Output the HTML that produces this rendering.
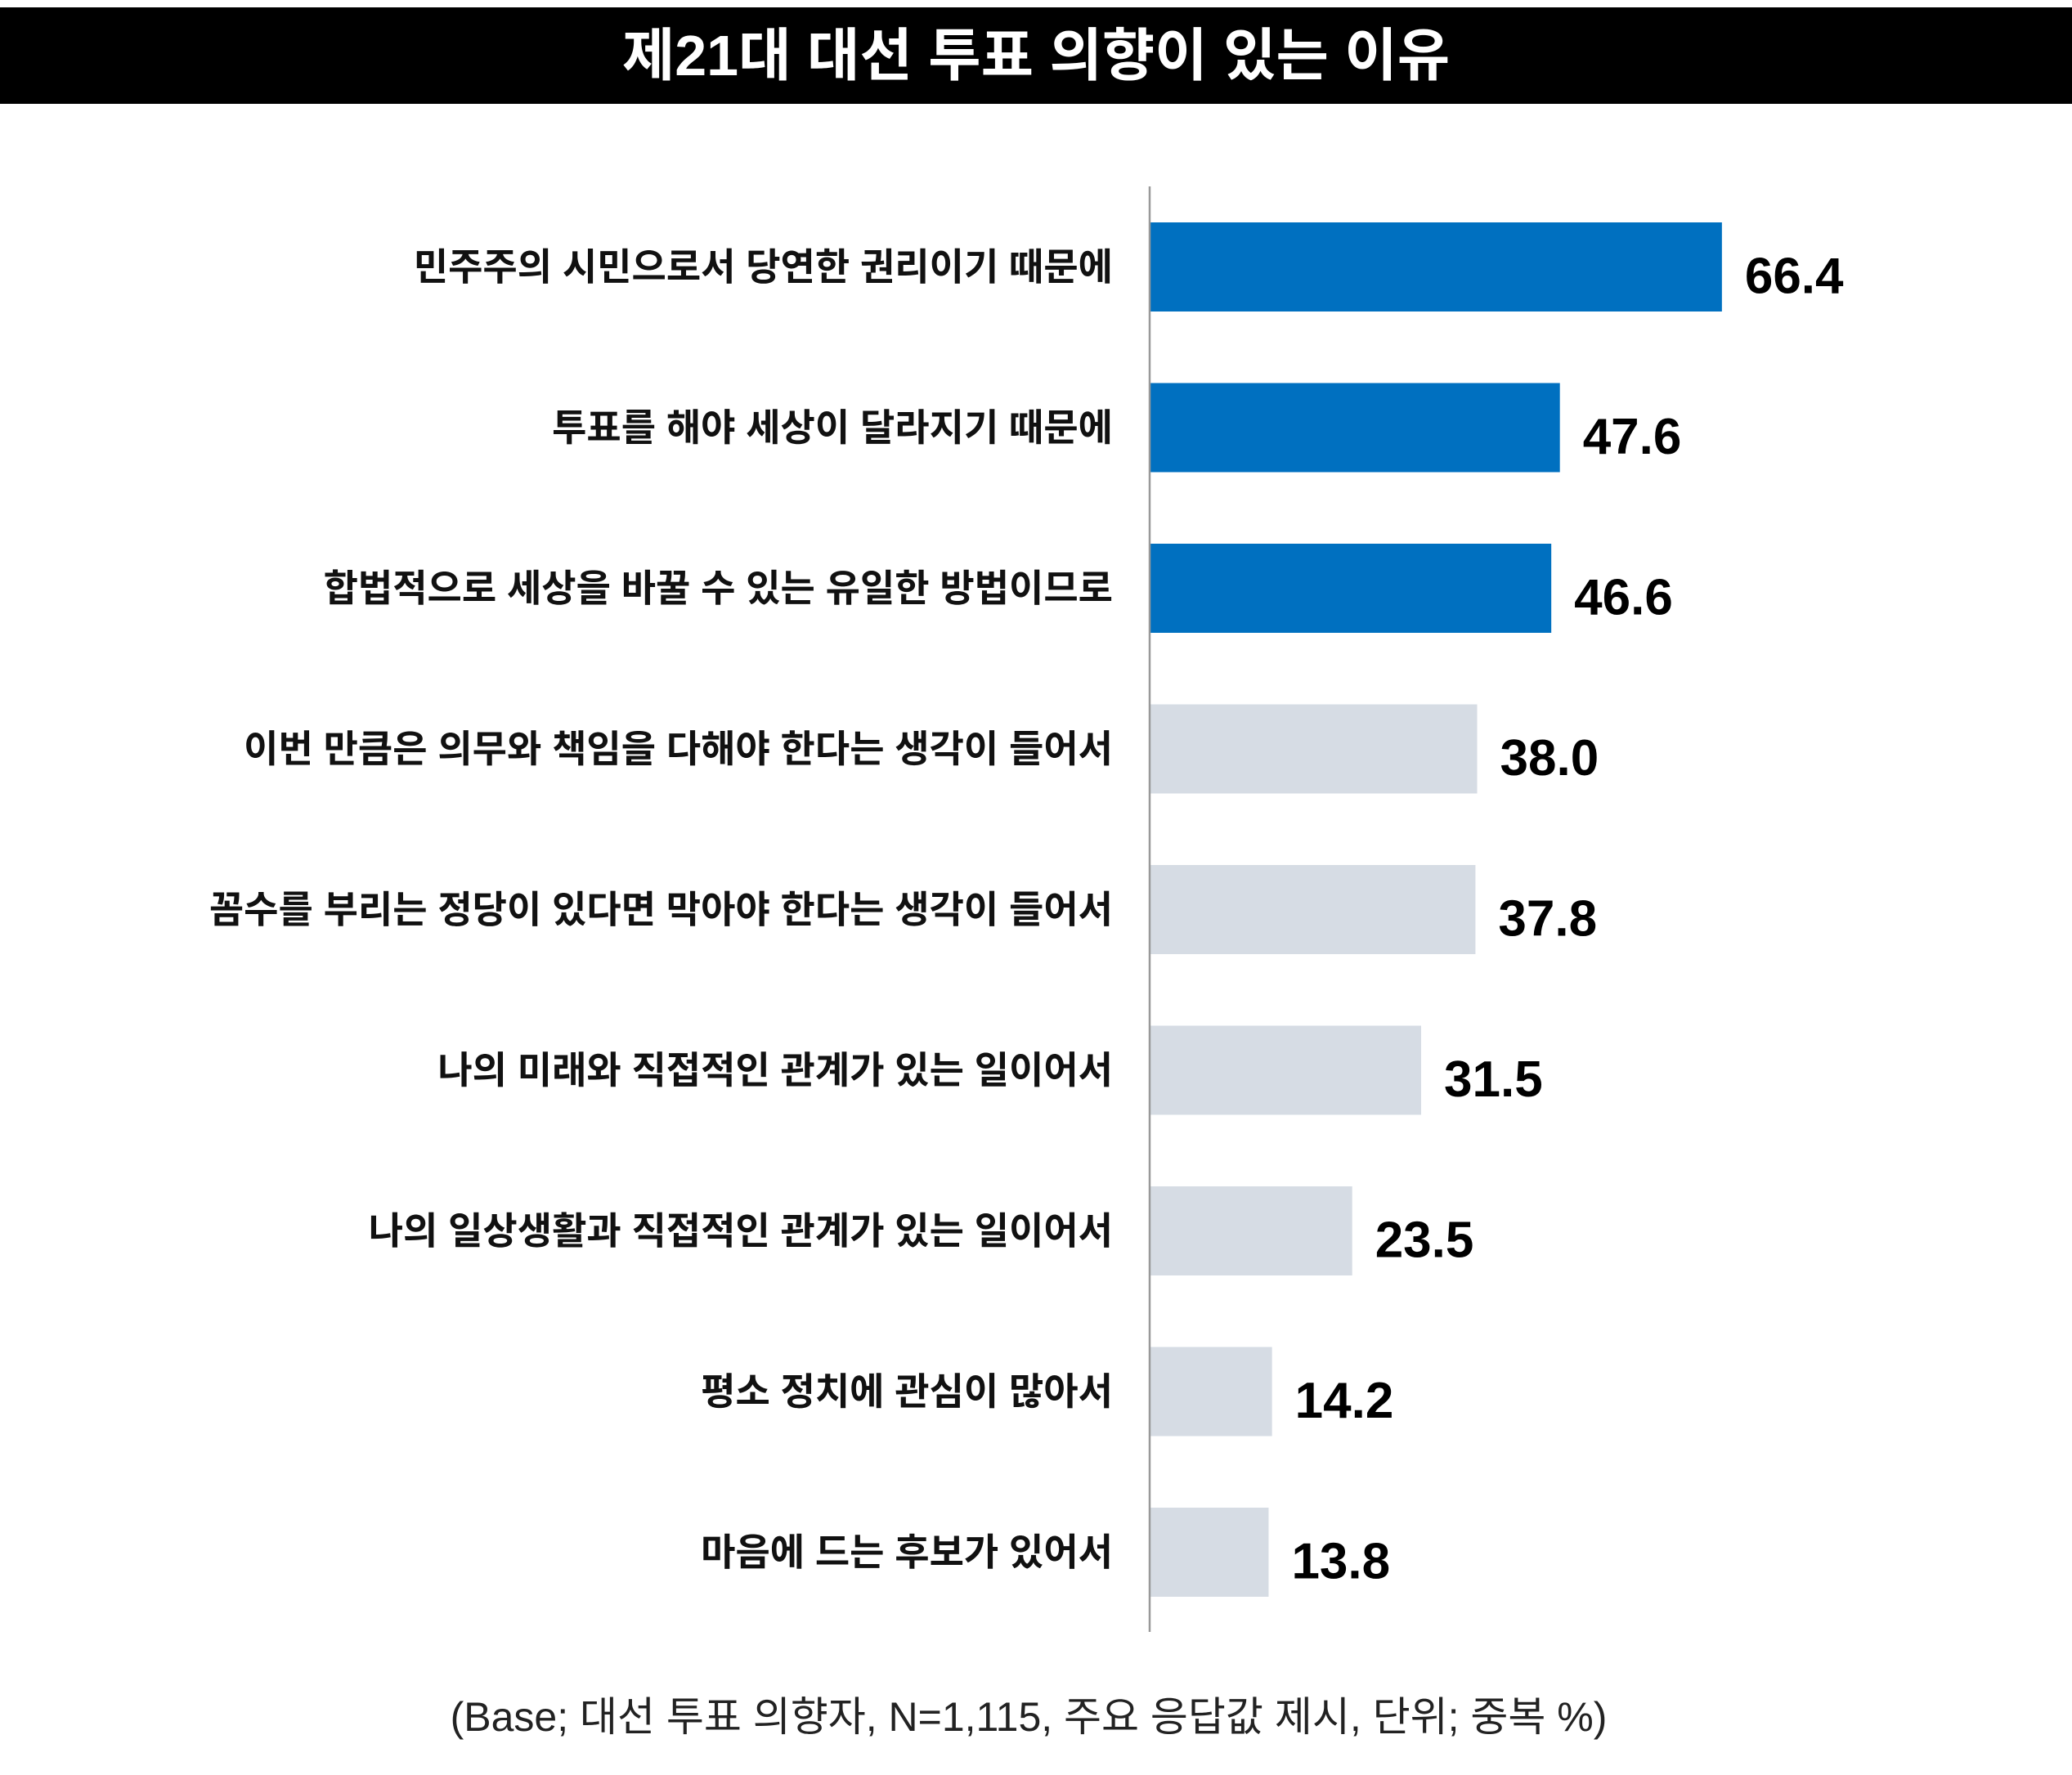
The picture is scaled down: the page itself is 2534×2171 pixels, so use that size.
<!DOCTYPE html>
<html><head><meta charset="utf-8"><style>
html,body{margin:0;padding:0;background:#fff;}
svg{display:block;}
text{font-family:"Liberation Sans","Noto Sans CJK KR",sans-serif;}
</style></head><body>
<svg id="chart" width="2534" height="2171" viewBox="0 0 2534 2171" xmlns="http://www.w3.org/2000/svg">
<rect x="0" y="9" width="2534" height="118" fill="#000"/>
<text x="1267" y="92" text-anchor="middle" font-size="70" font-weight="bold" fill="#fff">제21대 대선 투표 의향이 있는 이유</text>
<g id="bars"></g>
<line x1="1406" y1="228" x2="1406" y2="1996" stroke="#999" stroke-width="2.5"/>
<text x="1258" y="2117" text-anchor="middle" font-size="50" fill="#222">(Base; 대선 투표 의향자, N=1,115, 주요 응답값 제시, 단위; 중복 %)</text>
</svg>
<script>
const categories = ["민주주의 시민으로서 당연한 권리이기 때문에","투표를 해야 세상이 달라지기 때문에","합법적으로 세상을 바꿀 수 있는 유일한 방법이므로","이번 만큼은 의무와 책임을 다해야 한다는 생각이 들어서","꼼수를 부리는 정당이 있다면 막아야 한다는 생각이 들어서","나의 미래와 직접적인 관계가 있는 일이어서","나의 일상생활과 직접적인 관계가 있는 일이어서","평소 정치에 관심이 많아서","마음에 드는 후보가 있어서"];
const values = [66.4,47.6,46.6,38.0,37.8,31.5,23.5,14.2,13.8];
const valueLabels = ["66.4","47.6","46.6","38.0","37.8","31.5","23.5","14.2","13.8"];
const highlighted = [true,true,true,false,false,false,false,false,false];
const NS="http://www.w3.org/2000/svg";
const x0=1406, pxPerUnit=10.54, y0=272, pitch=196.5, bh=109;
const xScale=v=>v*pxPerUnit;
const yScale=i=>y0+i*pitch;
const g=document.getElementById('bars');
categories.forEach((c,i)=>{
  const y=yScale(i), w=xScale(values[i]);
  const r=document.createElementNS(NS,'rect');
  
  
  r.setAttribute('x',x0);r.setAttribute('y',y);r.setAttribute('width',w);r.setAttribute('height',bh);
  r.setAttribute('fill',highlighted[i]?'#0070C0':'#D6DCE4');
  g.appendChild(r);
  const t=document.createElementNS(NS,'text');
  
  
  t.setAttribute('x',1361);t.setAttribute('y',y+bh/2+16);
  t.setAttribute('text-anchor','end');t.setAttribute('font-size','46');t.setAttribute('font-weight','bold');t.setAttribute('fill','#111');
  t.textContent=c;g.appendChild(t);
  const v=document.createElementNS(NS,'text');
  
  
  v.setAttribute('x',x0+w+28);v.setAttribute('y',y+bh/2+32);
  v.setAttribute('font-size','62');v.setAttribute('font-weight','bold');v.setAttribute('fill','#000');
  v.textContent=valueLabels[i];g.appendChild(v);
});
</script>
</body></html>
